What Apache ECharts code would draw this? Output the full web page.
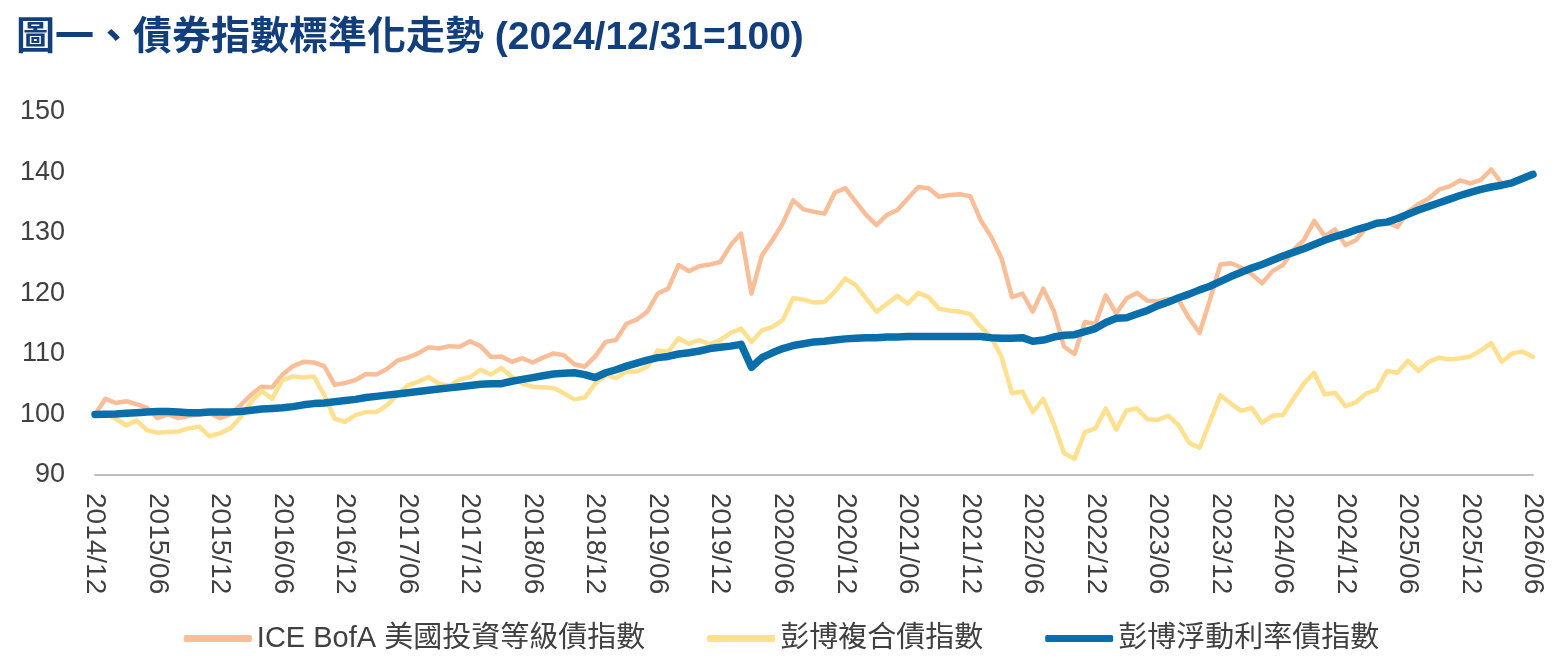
<!DOCTYPE html>
<html>
<head>
<meta charset="utf-8">
<title>債券指數標準化走勢</title>
<script src="https://cdn.jsdelivr.net/npm/echarts@6/dist/echarts.min.js"></script>
<style>
  html, body { margin: 0; padding: 0; background: #fff; }
  #main { width: 1563px; height: 664px; }
</style>
</head>
<body>
<div id="main"></div>
<script>
// 月份 2014/12 ~ 2026/06
var months = [
  '2014/12',
  '2015/01','2015/02','2015/03','2015/04','2015/05','2015/06','2015/07','2015/08','2015/09','2015/10','2015/11','2015/12',
  '2016/01','2016/02','2016/03','2016/04','2016/05','2016/06','2016/07','2016/08','2016/09','2016/10','2016/11','2016/12',
  '2017/01','2017/02','2017/03','2017/04','2017/05','2017/06','2017/07','2017/08','2017/09','2017/10','2017/11','2017/12',
  '2018/01','2018/02','2018/03','2018/04','2018/05','2018/06','2018/07','2018/08','2018/09','2018/10','2018/11','2018/12',
  '2019/01','2019/02','2019/03','2019/04','2019/05','2019/06','2019/07','2019/08','2019/09','2019/10','2019/11','2019/12',
  '2020/01','2020/02','2020/03','2020/04','2020/05','2020/06','2020/07','2020/08','2020/09','2020/10','2020/11','2020/12',
  '2021/01','2021/02','2021/03','2021/04','2021/05','2021/06','2021/07','2021/08','2021/09','2021/10','2021/11','2021/12',
  '2022/01','2022/02','2022/03','2022/04','2022/05','2022/06','2022/07','2022/08','2022/09','2022/10','2022/11','2022/12',
  '2023/01','2023/02','2023/03','2023/04','2023/05','2023/06','2023/07','2023/08','2023/09','2023/10','2023/11','2023/12',
  '2024/01','2024/02','2024/03','2024/04','2024/05','2024/06','2024/07','2024/08','2024/09','2024/10','2024/11','2024/12',
  '2025/01','2025/02','2025/03','2025/04','2025/05','2025/06','2025/07','2025/08','2025/09','2025/10','2025/11','2025/12',
  '2026/01','2026/02','2026/03','2026/04','2026/05','2026/06'
]

// ICE BofA 美國投資等級債指數
var iceBofA = [
  100.0,
  102.6,101.9,102.2,101.7,101.1,99.4,100.0,99.4,99.8,100.0,100.2,99.4,
  100.0,101.6,103.3,104.6,104.5,106.6,108.0,108.7,108.6,108.0,104.9,105.2,
  105.7,106.7,106.6,107.5,108.9,109.4,110.1,111.1,110.9,111.3,111.2,112.1,
  111.3,109.5,109.6,108.7,109.3,108.6,109.4,110.1,109.8,108.3,107.9,109.6,
  112.0,112.3,115.0,115.7,117.0,120.0,120.8,124.7,123.7,124.5,124.8,125.2,
  128.0,129.9,120.0,126.3,128.8,131.6,135.4,133.9,133.5,133.2,136.7,137.4,
  135.2,133.0,131.3,133.0,133.8,135.7,137.6,137.4,136.0,136.3,136.4,136.1,
  132.1,129.4,125.8,119.4,120.0,117.0,120.8,117.2,111.2,110.0,115.3,115.0,
  119.7,116.7,119.2,120.1,118.8,118.7,119.1,118.9,115.9,113.5,119.0,124.8,
  125.0,124.3,123.2,121.7,123.7,124.7,127.2,128.8,132.0,129.5,130.6,128.0,
  128.8,130.9,131.7,131.8,131.0,133.5,134.8,135.7,137.2,137.7,138.7,138.2,
  138.8,140.5,138.2,138.4,138.9,139.5
]

// 彭博複合債指數
var bbgAggregate = [
  100.0,
  100.2,99.3,98.2,99.0,97.4,97.0,97.1,97.2,97.7,98.0,96.4,96.9,
  97.7,99.6,102.1,103.9,102.6,105.7,106.3,106.1,106.3,103.2,99.3,98.8,
  99.9,100.4,100.4,101.5,103.2,104.8,105.4,106.2,105.1,104.7,105.8,106.2,
  107.4,106.6,107.7,106.2,105.1,104.6,104.5,104.4,103.5,102.5,102.8,105.1,
  106.5,106.0,107.1,107.1,107.9,110.6,110.4,112.6,111.7,112.3,111.6,112.3,
  113.5,114.2,112.0,113.9,114.5,115.6,119.2,119.0,118.5,118.6,120.3,122.5,
  121.4,119.2,117.0,118.3,119.6,118.3,120.1,119.4,117.5,117.2,117.0,116.6,
  114.5,112.8,109.5,103.5,103.8,100.4,102.6,98.5,93.6,92.7,97.1,97.7,
  101.0,97.5,100.7,101.0,99.2,99.1,99.8,98.2,95.3,94.5,98.8,103.2,
  101.8,100.6,101.1,98.6,99.8,99.9,102.6,105.1,106.9,103.3,103.6,101.4,
  102.0,103.5,104.1,107.2,106.9,108.9,107.2,108.7,109.4,109.1,109.3,109.6,
  110.6,111.8,108.7,110.1,110.4,109.5
]

// 彭博浮動利率債指數
var bbgFloating = [
  100.0,
  100.05,100.1,100.2,100.3,100.4,100.5,100.5,100.4,100.3,100.3,100.4,100.4,
  100.4,100.5,100.7,100.9,101.0,101.1,101.3,101.6,101.8,101.9,102.1,102.3,
  102.5,102.8,103.0,103.2,103.4,103.6,103.8,104.0,104.2,104.4,104.6,104.8,
  105.0,105.1,105.1,105.5,105.8,106.1,106.4,106.7,106.8,106.9,106.6,106.1,
  106.9,107.4,108.0,108.5,109.0,109.4,109.6,110.0,110.2,110.5,110.9,111.1,
  111.3,111.6,107.8,109.4,110.2,110.9,111.4,111.7,112.0,112.1,112.3,112.5,
  112.6,112.7,112.7,112.8,112.8,112.9,112.9,112.9,112.9,112.9,112.9,112.9,
  112.9,112.7,112.6,112.6,112.7,112.1,112.3,112.8,113.1,113.2,113.7,114.2,
  115.2,115.9,116.0,116.6,117.2,118.0,118.6,119.3,119.9,120.6,121.2,122.0,
  122.8,123.5,124.2,124.8,125.5,126.2,126.8,127.4,128.1,128.8,129.4,129.9,
  130.5,131.0,131.6,131.8,132.4,133.1,133.8,134.4,135.0,135.6,136.2,136.7,
  137.2,137.6,137.9,138.3,139.0,139.7
]

var seriesNames = ['ICE BofA 美國投資等級債指數', '彭博複合債指數', '彭博浮動利率債指數']
var seriesColors = ['#F9BE98', '#FFE08F', '#0A6EAA']

var fontLatin = "'Liberation Sans', 'Noto Sans CJK TC', sans-serif"

function draw() {
  var myChart = echarts.init(document.getElementById('main'))
  var option = {
    backgroundColor: '#fff',
    animation: false,
    title: {
      text: '圖一、債券指數標準化走勢 (2024/12/31=100)',
      left: 11,
      top: 14,
      textStyle: {
        fontFamily: fontLatin,
        fontSize: 39,
        fontWeight: 'bold',
        color: '#123E7C'
      }
    },
    legend: {
      // 圖例只畫圓角粗線，不要圓點
      data: seriesNames.map(function (name, i) {
        return { name: name, icon: 'roundRect', itemStyle: { color: seriesColors[i] } }
      }),
      left: 'center',
      top: 619,
      itemWidth: 68,
      itemHeight: 7,
      itemGap: 62,
      textStyle: {
        fontFamily: fontLatin,
        fontSize: 29,
        color: '#404040'
      }
    },
    grid: {
      left: 95,
      right: 30,
      top: 112,
      bottom: 189
    },
    xAxis: {
      type: 'category',
      data: months,
      boundaryGap: false,
      axisLine: { lineStyle: { color: '#BFBFBF', width: 2 } },
      axisTick: { show: false },
      axisLabel: {
        interval: 5,
        rotate: -90,
        margin: 18,
        fontFamily: fontLatin,
        fontSize: 28,
        color: '#404040'
      },
      splitLine: { show: false }
    },
    yAxis: {
      type: 'value',
      min: 90,
      max: 150,
      interval: 10,
      axisLine: { show: false },
      axisTick: { show: false },
      splitLine: { show: false },
      axisLabel: {
        margin: 30,
        fontFamily: fontLatin,
        fontSize: 27,
        color: '#404040'
      }
    },
    series: [{
      name: seriesNames[0],
      type: 'line',
      data: iceBofA,
      symbol: 'none',
      color: seriesColors[0],
      lineStyle: { width: 4.5, color: seriesColors[0], cap: 'round', join: 'round' }
    }, {
      name: seriesNames[1],
      type: 'line',
      data: bbgAggregate,
      symbol: 'none',
      color: seriesColors[1],
      lineStyle: { width: 4.5, color: seriesColors[1], cap: 'round', join: 'round' }
    }, {
      name: seriesNames[2],
      type: 'line',
      data: bbgFloating,
      symbol: 'none',
      color: seriesColors[2],
      lineStyle: { width: 7.5, color: seriesColors[2], cap: 'round', join: 'round' }
    }]
  }
  myChart.setOption(option)
}

window.onload = draw
</script>
</body>
</html>
